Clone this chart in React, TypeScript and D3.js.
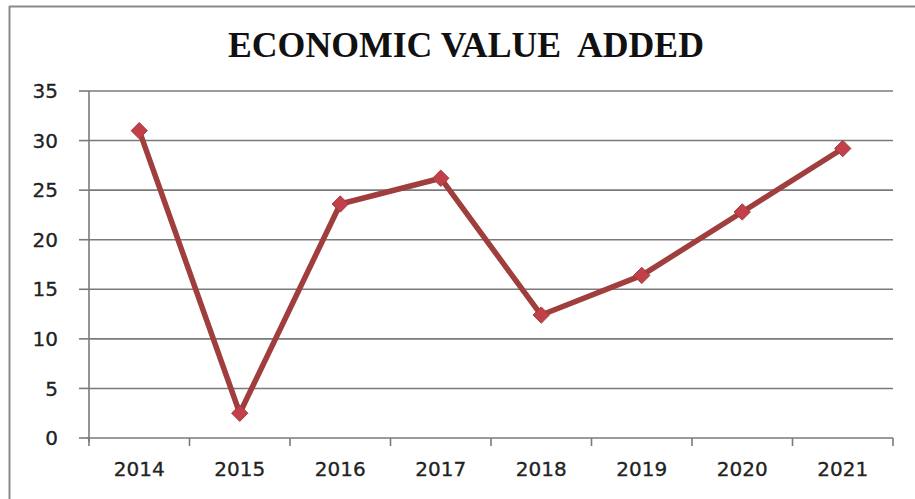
import React from "react";
import * as d3 from "d3";

const years = ["2014", "2015", "2016", "2017", "2018", "2019", "2020", "2021"];
const values = [31, 2.5, 23.6, 26.2, 12.4, 16.4, 22.8, 29.2];
const yTicks = [0, 5, 10, 15, 20, 25, 30, 35];
const title = "ECONOMIC VALUE  ADDED";

const W = 915;
const H = 499;
const M = { left: 89, right: 893, top: 91, bottom: 438 };

export default function App() {
  const x = d3.scaleBand<string>().domain(years).range([M.left, M.right]);
  const y = d3.scaleLinear().domain([0, 35]).range([M.bottom, M.top]);
  const line = d3
    .line<number>()
    .x((_, i) => (x(years[i]) as number) + x.bandwidth() / 2)
    .y((d) => y(d));
  const diamond = d3.symbol().type(d3.symbolDiamond2).size(170)() as string;
  const boundaries = [...years.map((yr) => x(yr) as number), M.right];

  return (
    <svg
      width={W}
      height={H}
      style={{ position: "absolute", left: 0, top: 0, background: "#fff" }}
    >
      <rect x={0} y={0} width={W} height={H} fill="#fff" />
      {/* frame */}
      <line x1={9.5} y1={6} x2={9.5} y2={H} stroke="#8a8a8a" strokeWidth={2} />
      <line x1={9} y1={6.5} x2={W} y2={6.5} stroke="#8a8a8a" strokeWidth={2} />
      <text
        x={466}
        y={57}
        textAnchor="middle"
        fontFamily="'Liberation Serif', 'Times New Roman', serif"
        fontWeight="bold"
        fontSize={36}
        fill="#111"
        textLength={476}
        lengthAdjust="spacingAndGlyphs"
        style={{ whiteSpace: "pre" }}
      >
        {title}
      </text>
      {/* gridlines & y ticks */}
      {yTicks.map((t) => (
        <g key={t}>
          {t > 0 && (
            <line x1={M.left} x2={M.right} y1={y(t)} y2={y(t)} stroke="#7a7a7a" strokeWidth={1.6} />
          )}
          <line x1={79} x2={M.left} y1={y(t)} y2={y(t)} stroke="#7a7a7a" strokeWidth={1.6} />
          <text
            x={58}
            y={y(t)}
            dy="0.36em"
            textAnchor="end"
            fontFamily="'DejaVu Sans', Verdana, sans-serif"
            fontSize={20}
            fill="#222"
            stroke="#222"
            strokeWidth={0.3}
          >
            {t}
          </text>
        </g>
      ))}
      {/* axes */}
      <line x1={M.left} x2={M.left} y1={M.top} y2={M.bottom + 4} stroke="#7a7a7a" strokeWidth={1.6} />
      <line x1={M.left - 2} x2={M.right} y1={M.bottom} y2={M.bottom} stroke="#7a7a7a" strokeWidth={1.6} />
      {boundaries.map((b, i) => (
        <line key={i} x1={b} x2={b} y1={M.bottom} y2={M.bottom + 8} stroke="#7a7a7a" strokeWidth={1.6} />
      ))}
      {years.map((yr) => (
        <text
          key={yr}
          x={(x(yr) as number) + x.bandwidth() / 2}
          y={476}
          textAnchor="middle"
          fontFamily="'DejaVu Sans', Verdana, sans-serif"
          fontSize={20}
          fill="#222"
          stroke="#222"
          strokeWidth={0.3}
        >
          {yr}
        </text>
      ))}
      {/* series */}
      <path
        d={line(values) as string}
        fill="none"
        stroke="#a03e3d"
        strokeWidth={5.5}
        strokeLinejoin="round"
      />
      {values.map((v, i) => (
        <path
          key={i}
          d={diamond}
          transform={`translate(${(x(years[i]) as number) + x.bandwidth() / 2},${y(v)})`}
          fill="#c2404a"
          stroke="#a03e3d"
          strokeWidth={1}
        />
      ))}
    </svg>
  );
}
